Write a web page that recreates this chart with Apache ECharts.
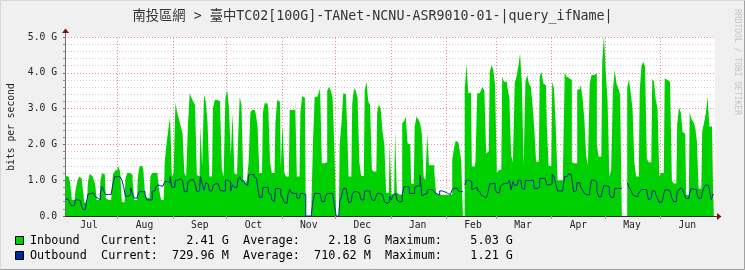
<!DOCTYPE html>
<html><head><meta charset="utf-8">
<script src="https://cdn.jsdelivr.net/npm/echarts@6/dist/echarts.min.js"></script>
<style>html,body{margin:0;padding:0;background:#F0F0F0}#c{width:745px;height:270px}</style>
</head><body><div id="c"></div>
<script>
// ---- texts ----
const TITLE = '南投區網 > 臺中TC02[100G]-TANet-NCNU-ASR9010-01-|query_ifName|';
const Y_LABEL = 'bits per second';
const WATERMARK = 'RRDTOOL / TOBI OETIKER';
const monthNames = ['Jan','Feb','Mar','Apr','May','Jun','Jul','Aug','Sep','Oct','Nov','Dec'];
// months shown on the axis [year, monthIndex]
const axisMonths = [[2024,6],[2024,7],[2024,8],[2024,9],[2024,10],[2024,11],[2025,0],[2025,1],[2025,2],[2025,3],[2025,4],[2025,5]];
const yTicksG = [0,1,2,3,4,5];
// first day of daily series (Tue 2 Jul 2024), one value per day, Gbit/s
const firstDay = [2024, 6, 2];

// ---- inbound, Gbit/s, daily ----
const inboundJulSep = [
 1.10,1.12,1.10,0.95,0.45,0.45,0.70,
 0.95,1.10,1.05,0.80,0.38,0.38,0.95,
 1.17,1.12,1.05,0.90,0.45,0.45,1.00,
 1.20,1.15,0.50,0.45,0.45,0.45,1.15,
 1.25,1.30,1.38,1.25,0.40,0.38,1.05,
 1.20,1.20,1.15,1.00,0.45,0.45,1.10,
 1.40,1.40,1.30,0.60,0.50,0.50,1.10,
 1.20,1.20,1.20,1.10,0.70,0.45,0.45,
 1.50,2.00,2.40,2.75,1.10,1.20,3.15,
 2.90,2.70,2.50,2.30,1.20,1.10,2.50,
 3.43,3.30,3.20,3.10,1.15,1.10,2.50,
 1.40,3.38,3.20,2.60,1.10,1.10,3.00,
 3.24,3.24,3.20,3.10,1.30,1.10,3.30
];
const inboundOctDec = [
 3.52,3.00,1.66,2.87,1.20,1.15,2.00,
 3.33,3.10,1.00,0.90,1.00,1.50,2.90,
 2.96,2.96,2.85,2.50,1.20,1.20,2.90,
 3.15,3.15,3.00,1.50,1.20,1.20,2.60,
 3.24,3.20,1.35,2.54,1.20,1.10,1.10,
 2.96,2.96,2.96,3.29,1.10,1.10,2.90,
 3.35,3.30,0,0,0,0,2.00,
 3.33,3.33,3.40,3.57,1.47,1.47,1.50,
 3.50,3.60,3.50,3.30,1.94,0,0,
 2.00,2.60,3.43,3.40,2.70,1.10,1.10,
 3.13,3.57,3.50,3.30,1.50,1.12,1.12,
 3.50,3.75,3.20,3.10,1.30,1.24,1.24,
 2.90,3.13,2.96,2.35,2.00,0.65,0.65
];
const inboundJanMar = [
 2.03,0.60,0.60,2.35,0.65,0.60,0.60,
 2.59,2.65,2.77,2.03,2.00,0.90,0.90,
 2.50,2.77,2.70,2.60,2.30,1.10,1.00,
 2.29,1.42,1.42,1.42,1.20,0.63,0.59,
 0.59,0.59,0.59,0.59,0.59,0.59,0.60,
 1.56,1.90,2.10,2.05,1.90,1.56,null,
 3.50,4.26,3.43,3.45,1.38,1.38,1.50,
 3.43,3.43,3.50,3.60,3.50,1.75,1.80,
 4.00,4.22,4.08,3.66,1.20,1.28,1.30,
 3.90,3.75,3.75,3.57,3.30,1.70,1.50,
 3.70,3.90,4.17,4.54,3.70,1.42,3.75,
 3.94,3.70,3.60,3.10,2.40,1.50,1.52,
 3.90,4.03,3.70,3.65,2.50,1.40,1.40
];
const inboundAprJun = [
 3.75,3.57,2.50,1.00,1.00,1.00,1.20,
 4.00,3.90,3.85,3.80,1.50,1.47,1.47,
 3.52,3.55,3.66,3.29,2.70,1.70,1.42,
 3.70,3.94,3.94,3.98,2.00,1.66,1.66,
 4.30,5.03,3.98,3.24,1.10,1.28,3.50,
 4.08,3.70,3.57,3.40,null,null,null,
 3.57,3.82,3.43,2.98,1.50,1.10,1.10,
 3.50,4.20,4.31,4.17,1.60,1.50,1.50,
 3.82,3.75,3.24,3.00,1.10,1.20,1.20,
 3.85,3.80,3.75,3.75,1.00,0.91,0.91,
 2.57,3.03,2.90,2.35,2.30,0.59,0.59,
 2.90,2.70,2.63,2.50,2.10,0.77,0.77,
 2.35,2.60,2.87,3.33,2.50,2.50,0.96
];

// ---- outbound, Gbit/s, daily ----
const outboundJulSep = [
 0.47,0.47,0.47,0.35,0.28,0.30,0.45,
 0.45,0.42,0.35,0.20,0.17,0.35,0.60,
 0.63,0.65,0.68,0.55,0.50,0.45,0.65,
 0.82,0.68,0.60,0.60,0.60,0.63,0.90,
 1.10,1.10,1.10,1.05,1.00,0.82,0.55,
 0.55,0.60,0.78,0.60,0.50,0.50,0.60,
 0.68,0.68,0.68,0.60,0.45,0.45,0.45,
 0.70,0.70,0.80,0.87,0.85,0.83,0.78,
 0.96,0.96,0.93,1.10,0.80,0.80,1.00,
 1.00,1.05,1.00,0.98,0.68,0.68,0.95,
 1.00,1.02,1.02,0.90,0.68,0.70,1.10,
 0.90,0.72,0.93,0.88,0.70,0.70,0.85,
 0.90,0.90,0.90,0.72,0.70,0.70,1.00
];
const outboundOctDec = [
 1.00,0.95,0.70,0.87,0.80,0.80,1.00,
 1.10,0.98,0.98,0.90,0.86,1.15,1.16,
 1.16,1.10,1.05,0.82,0.52,0.52,0.80,
 0.80,0.80,0.65,0.60,0.45,0.40,0.77,
 0.77,0.75,0.60,0.50,0.38,0.35,0.60,
 0.74,0.65,0.63,0.63,0.50,0.50,0.63,
 0.63,0.60,0,0,0,0,0.40,
 0.63,0.63,0.63,0.63,0.40,0.40,0.55,
 0.63,0.63,0.63,0.60,0.30,0,0,
 0.40,0.55,0.77,0.77,0.65,0.37,0.40,
 0.60,0.68,0.68,0.65,0.60,0.45,0.45,
 0.70,0.70,0.70,0.63,0.45,0.43,0.50,
 0.63,0.63,0.60,0.58,0.40,0.35,0.40
];
const outboundJanMar = [
 0.55,0.45,0.60,0.63,0.45,0.40,0.40,
 0.60,0.82,0.82,0.80,0.63,0.63,0.63,
 0.80,0.84,0.84,1.15,0.56,0.60,0.63,
 0.72,0.74,0.74,0.72,0.66,0.62,0.59,
 0.70,0.70,0.67,0.63,0.63,0.60,0.65,
 0.74,0.77,0.78,0.72,0.68,0.68,null,
 0.87,1.00,1.00,0.95,0.74,0.77,0.80,
 0.72,0.68,0.60,0.55,0.50,0.50,0.65,
 0.90,0.90,0.92,0.75,0.65,0.65,0.82,
 0.88,0.91,0.91,0.95,1.00,0.73,0.96,
 0.85,0.87,1.00,1.00,0.77,0.74,0.99,
 0.99,0.99,0.97,1.00,0.77,0.77,0.80,
 1.05,1.05,1.05,1.05,0.87,0.87,0.90
];
const outboundAprJun = [
 1.17,1.10,0.90,0.70,0.70,0.70,0.78,
 1.10,1.10,1.17,1.17,1.05,0.68,0.70,
 0.93,0.93,0.80,0.72,0.63,0.59,0.59,
 0.70,1.00,1.00,0.95,0.70,0.54,0.54,
 0.70,0.85,0.84,0.82,0.60,0.52,0.52,
 0.77,0.77,0.77,0.77,null,null,null,
 0.93,0.80,0.73,0.60,0.55,0.54,0.60,
 0.68,0.74,0.74,0.74,0.68,0.45,0.50,
 0.70,0.70,0.60,0.49,0.37,0.40,0.50,
 0.73,0.73,0.70,0.68,0.50,0.40,0.40,
 0.70,0.74,0.80,0.74,0.60,0.49,0.49,
 0.65,0.77,0.75,0.73,0.63,0.49,0.50,
 0.65,0.80,0.87,0.85,0.75,0.45,0.60
];

// ---- legend ----
const legendRows = [
  {name:'Inbound',  color:'#00CF00', current:'2.41 G',   average:'2.18 G',   maximum:'5.03 G'},
  {name:'Outbound', color:'#002A97', current:'729.96 M', average:'710.62 M', maximum:'1.21 G'}
];

// ---- build ----
const DAY = 864e5, HOUR = 36e5;
const t0 = Date.UTC(firstDay[0], firstDay[1], firstDay[2]);
const toSeries = arr => arr.map((v, i) => [t0 + i * DAY + 20 * HOUR, v == null ? '-' : v * 1e9]);
const inbound = [].concat(inboundJulSep, inboundOctDec, inboundJanMar, inboundAprJun);
const outbound = [].concat(outboundJulSep, outboundOctDec, outboundJanMar, outboundAprJun);
const xMin = Date.UTC(2024,6,2,12), xMax = Date.UTC(2025,6,1,12);
const monthStarts = axisMonths.map(m => Date.UTC(m[0], m[1], 1)).filter(t => t > xMin);
const monthMids = axisMonths.map(m => Date.UTC(m[0], m[1], 16));
const MONO = "'DejaVu Sans Mono', 'Noto Sans CJK TC', monospace";
const pad = (s, n) => s.padStart(n, ' ');

const legendGraphics = [];
legendRows.forEach((r, i) => {
  const y = 241 + i * 15;
  legendGraphics.push({type:'rect', shape:{x:15.5, y:y - 4.5, width:8, height:8},
    style:{fill:r.color, stroke:'#000', lineWidth:1}});
  const txt = (r.name + '          ').slice(0, 10) + 'Current:' + pad(r.current, 10) +
    '  Average:' + pad(r.average, 10) + '  Maximum:' + pad(r.maximum, 10);
  legendGraphics.push({type:'text', x:30, y:y, style:{text:txt, font:'11.8px ' + MONO,
    fill:'#000', textVerticalAlign:'middle'}});
});

const chart = echarts.init(document.getElementById('c'), null, {renderer:'canvas'});
chart.setOption({
  animation:false,
  backgroundColor:'#F0F0F0',
  title:{text:TITLE, left:'center', top:5,
    textStyle:{fontFamily:MONO, fontSize:13.3, fontWeight:'normal', color:'#333'}},
  grid:{left:65, right:30, top:37, bottom:54, show:true, backgroundColor:'#FFFFFF', borderWidth:0},
  xAxis:{
    type:'value', min:xMin, max:xMax, scale:true,
    axisLine:{show:true, onZero:false, lineStyle:{color:'#303030', width:1}},
    axisTick:{show:true, customValues:monthStarts, length:3, lineStyle:{color:'#e08080'}},
    axisLabel:{customValues:monthMids, formatter:v => monthNames[new Date(v).getUTCMonth()],
      fontFamily:MONO, fontSize:9.7, color:'#222', margin:5, showMinLabel:true, showMaxLabel:true},
    splitLine:{show:false}
  },
  yAxis:{
    type:'value', min:0, max:yTicksG[yTicksG.length-1] * 1e9, interval:1e9,
    axisLine:{show:true, lineStyle:{color:'#707070', width:1}},
    axisTick:{show:true, length:2, lineStyle:{color:'#707070'}},
    minorTick:{show:true, splitNumber:5, length:2, lineStyle:{color:'#909090'}},
    axisLabel:{formatter:v => v === 0 ? '0.0' : (v / 1e9).toFixed(1) + ' G',
      fontFamily:MONO, fontSize:9.7, color:'#222', margin:8},
    splitLine:{show:true, lineStyle:{color:'#F08C8C', type:[1,2], width:1}},
    minorSplitLine:{show:true, lineStyle:{color:'#CFCFCF', type:[1,2], width:1}}
  },
  series:[
    {name:'MonthGrid', type:'line', data:[], z:1, silent:true,
      markLine:{silent:true, z:1, symbol:['none','none'], label:{show:false}, animation:false,
        lineStyle:{color:'#F08C8C', type:[1,2], width:1},
        emphasis:{disabled:true},
        data:monthStarts.map(t => ({xAxis:t}))}},
    {name:'Inbound', type:'line', step:'middle', showSymbol:false, data:toSeries(inbound),
      lineStyle:{width:0, opacity:0}, areaStyle:{color:'#00CF00', opacity:1}, itemStyle:{color:'#00CF00'}, z:10},
    {name:'Outbound', type:'line', step:'middle', showSymbol:false, data:toSeries(outbound),
      lineStyle:{width:1, color:'#002A97'}, itemStyle:{color:'#002A97'}, z:11}
  ],
  graphic:[
    {type:'text', x:11, y:127, rotation:Math.PI/2, style:{text:Y_LABEL, font:'9.7px ' + MONO,
      fill:'#222', textAlign:'center', textVerticalAlign:'middle'}},
    {type:'text', x:737, y:62, rotation:-Math.PI/2, style:{text:WATERMARK, font:'8px ' + MONO,
      fill:'#C4C4C4', textAlign:'center', textVerticalAlign:'middle'}},
    {type:'line', shape:{x1:65.5, y1:37, x2:65.5, y2:33}, style:{stroke:'#707070', lineWidth:1}, z:10},
    {type:'polygon', shape:{points:[[62,33],[69,33],[65.5,28.5]]}, style:{fill:'#7F1010'}, z:10},
    {type:'line', shape:{x1:715, y1:216.5, x2:717, y2:216.5}, style:{stroke:'#303030', lineWidth:1}, z:10},
    {type:'polygon', shape:{points:[[717,213],[717,220],[721.5,216.5]]}, style:{fill:'#7F1010'}, z:10},
    {type:'polyline', shape:{points:[[0.5,269.5],[0.5,0.5],[744.5,0.5]]}, style:{stroke:'#D8D8D8', lineWidth:1}, z:10},
    {type:'polyline', shape:{points:[[0.5,269.5],[744.5,269.5],[744.5,0.5]]}, style:{stroke:'#A0A0A0', lineWidth:1}, z:10}
  ].concat(legendGraphics)
});
</script></body></html>
